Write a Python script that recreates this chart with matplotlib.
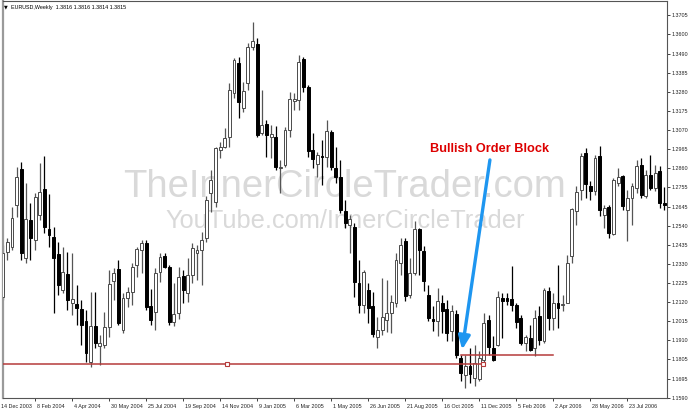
import matplotlib
matplotlib.use("Agg")
import matplotlib.pyplot as plt
from matplotlib.transforms import offset_copy

# ---------------- data (EURUSD weekly) ----------------
opens = [1.2147,1.2395,1.2423,1.2655,1.2854,1.2362,1.2572,1.2462,1.2600,1.2744,
         1.2523,1.2478,1.2384,1.2185,1.2274,1.2114,1.2108,1.2080,1.2014,1.1788,
         1.1986,1.1876,1.1882,1.1981,1.2235,1.2302,1.1964,1.2141,1.2174,1.2324,
         1.2406,1.2445,1.2097,1.2064,1.2285,1.2373,1.2313,1.2009,1.2058,1.2263,
         1.2169,1.2269,1.2390,1.2406,1.2473,1.2722,1.2672,1.2959,1.2976,1.3031,
         1.3274,1.3440,1.3191,1.3329,1.3528,1.3545,1.3053,1.3103,1.3031,1.3031,
         1.2859,1.2876,1.3070,1.3230,1.3235,1.3462,1.3307,1.2959,1.2882,1.2926,
         1.2920,1.3059,1.2859,1.2810,1.2622,1.2545,1.2534,1.2224,1.2102,1.2185,
         1.2097,1.1926,1.1964,1.2020,1.2058,1.2114,1.2335,1.2456,1.2158,1.2280,
         1.2523,1.2401,1.2158,1.2025,1.2014,1.2114,1.2080,1.1959,1.2053,1.1810,
         1.1716,1.1766,1.1699,1.1694,1.1799,1.2020,1.1865,1.1882,1.2141,1.2141,
         1.2136,1.2102,1.2031,1.1893,1.1920,1.1865,1.2042,1.1904,1.2180,1.2031,
         1.2114,1.2102,1.2114,1.2373,1.2622,1.2738,1.2942,1.2760,1.2733,1.2926,
         1.2600,1.2644,1.2495,1.2776,1.2815,1.2627,1.2694,1.2749,1.2876,1.2705,
         1.2821,1.2749,1.2843,1.2666]
highs = [1.2434,1.2473,1.2644,1.2865,1.2893,1.2776,1.2666,1.2722,1.2887,1.2926,
         1.2716,1.2534,1.2451,1.2423,1.2395,1.2390,1.2213,1.2130,1.2075,1.2174,
         1.2174,1.1937,1.2064,1.2296,1.2307,1.2351,1.2169,1.2202,1.2335,1.2423,
         1.2462,1.2462,1.2191,1.2307,1.2390,1.2390,1.2324,1.2224,1.2313,1.2296,
         1.2362,1.2445,1.2434,1.2506,1.2705,1.2848,1.2976,1.3003,1.3081,1.3329,
         1.3467,1.3473,1.3335,1.3550,1.3666,1.3578,1.3291,1.3125,1.3097,1.3092,
         1.2904,1.3087,1.3279,1.3274,1.3484,1.3473,1.3318,1.3053,1.2948,1.3014,
         1.3125,1.3070,1.2976,1.2904,1.2683,1.2600,1.2556,1.2351,1.2296,1.2224,
         1.2174,1.2036,1.2252,1.2241,1.2158,1.2390,1.2473,1.2473,1.2362,1.2567,
         1.2528,1.2429,1.2213,1.2097,1.2196,1.2158,1.2130,1.2102,1.2075,1.1826,
         1.1826,1.1865,1.1882,1.1848,1.2058,1.2047,1.1931,1.2180,1.2169,1.2169,
         1.2318,1.2114,1.2047,1.1937,1.1992,1.2075,1.2097,1.2196,1.2202,1.2169,
         1.2324,1.2158,1.2379,1.2638,1.2760,1.2942,1.2970,1.2788,1.2931,1.2982,
         1.2655,1.2655,1.2804,1.2859,1.2821,1.2738,1.2776,1.2904,1.2915,1.2848,
         1.2931,1.2876,1.2870,1.2755]
lows = [1.2130,1.2351,1.2406,1.2589,1.2351,1.2335,1.2351,1.2406,1.2572,1.2500,
        1.2423,1.2058,1.2158,1.2169,1.2075,1.2047,1.1992,1.1882,1.1788,1.1760,
        1.1865,1.1771,1.1865,1.1926,1.2130,1.1992,1.1948,1.2091,1.2102,1.2258,
        1.2280,1.2075,1.1992,1.1964,1.2230,1.2307,1.1992,1.1986,1.2025,1.2114,
        1.2119,1.2224,1.2241,1.2213,1.2451,1.2616,1.2644,1.2915,1.2970,1.2976,
        1.3246,1.3136,1.3169,1.3291,1.3512,1.3031,1.3042,1.2920,1.2915,1.2848,
        1.2722,1.2865,1.3031,1.3180,1.3180,1.3279,1.2920,1.2859,1.2810,1.2766,
        1.2865,1.2848,1.2776,1.2611,1.2528,1.2390,1.2147,1.2058,1.2058,1.2003,
        1.1926,1.1865,1.1937,1.1953,1.1948,1.2091,1.2269,1.2125,1.2141,1.2269,
        1.2269,1.2180,1.2014,1.1959,1.1931,1.1948,1.1904,1.1904,1.1810,1.1682,
        1.1644,1.1671,1.1655,1.1682,1.1766,1.1826,1.1793,1.1876,1.1920,1.2102,
        1.2069,1.1975,1.1882,1.1848,1.1848,1.1821,1.1882,1.1893,1.1964,1.1964,
        1.1975,1.2069,1.2114,1.2335,1.2545,1.2683,1.2694,1.2683,1.2710,1.2594,
        1.2528,1.2473,1.2489,1.2760,1.2627,1.2456,1.2545,1.2722,1.2694,1.2694,
        1.2738,1.2733,1.2638,1.2627]
closes = [1.2390,1.2451,1.2583,1.2810,1.2390,1.2578,1.2473,1.2699,1.2727,1.2534,
          1.2489,1.2362,1.2213,1.2285,1.2130,1.2136,1.2086,1.1992,1.1837,1.1986,
          1.1893,1.1893,1.1981,1.2219,1.2280,1.2003,1.2141,1.2174,1.2313,1.2412,
          1.2445,1.2091,1.2020,1.2280,1.2368,1.2313,1.2009,1.2053,1.2258,1.2185,
          1.2269,1.2418,1.2406,1.2462,1.2683,1.2793,1.2970,1.2976,1.3026,1.3291,
          1.3456,1.3224,1.3285,1.3528,1.3561,1.3042,1.3097,1.3042,1.3048,1.2865,
          1.2865,1.3070,1.3241,1.3241,1.3445,1.3307,1.2953,1.2909,1.2931,1.2920,
          1.3064,1.2865,1.2810,1.2627,1.2556,1.2578,1.2230,1.2102,1.2285,1.2086,
          1.1942,1.1964,1.2036,1.2058,1.2119,1.2351,1.2434,1.2152,1.2280,1.2523,
          1.2406,1.2235,1.2031,1.2014,1.2125,1.2069,1.1948,1.2069,1.1826,1.1727,
          1.1766,1.1721,1.1782,1.1810,1.2003,1.1871,1.1799,1.2147,1.2125,1.2125,
          1.2102,1.2009,1.1893,1.1926,1.1854,1.2031,1.1909,1.2185,1.2031,1.2114,
          1.2086,1.2108,1.2335,1.2633,1.2727,1.2926,1.2771,1.2733,1.2915,1.2627,
          1.2638,1.2500,1.2793,1.2810,1.2650,1.2694,1.2760,1.2870,1.2710,1.2821,
          1.2749,1.2832,1.2666,1.2655]

date_labels = ["8 Feb 2004", "4 Apr 2004", "30 May 2004", "25 Jul 2004",
               "19 Sep 2004", "14 Nov 2004", "9 Jan 2005", "6 Mar 2005",
               "1 May 2005", "26 Jun 2005", "21 Aug 2005", "16 Oct 2005",
               "11 Dec 2005", "5 Feb 2006", "2 Apr 2006", "28 May 2006",
               "23 Jul 2006"]
date_positions = [7, 15, 23, 31, 39, 47, 55, 63, 71, 79, 87, 95, 103, 111,
                  119, 127, 135]
first_label = "14 Dec 2003"

price_ticks = [1.3705, 1.3600, 1.3490, 1.3385, 1.3280, 1.3175, 1.3070, 1.2965,
               1.2860, 1.2755, 1.2645, 1.2540, 1.2435, 1.2330, 1.2225, 1.2120,
               1.2015, 1.1910, 1.1805, 1.1695, 1.1590]

support_level = 1.1777     # long red line
support_end = 103.9
support_mark = 48.5
ob_level = 1.1826          # order block high line
ob_start, ob_end = 99.0, 118.9
arrow_tail = (105.3, 1.2904)
arrow_head = (99.3, 1.1856)
label_pos = (105.2, 1.2950)

# ---------------- figure ----------------
W, H = 690, 412
fig = plt.figure(figsize=(W / 100, H / 100), dpi=100)
fig.patch.set_facecolor("white")
ax_l, ax_r, ax_t, ax_b = 2.5, 667.0, 1.0, 398.0
ax = fig.add_axes([ax_l / W, (H - ax_b) / H, (ax_r - ax_l) / W, (ax_b - ax_t) / H])
ax.set_facecolor("white")

SMALL = "Liberation Sans"
n = len(opens)
xs = list(range(n))
bull = [c >= o for o, c in zip(opens, closes)]

# wicks
for i in xs:
    col = "#555555" if bull[i] else "black"
    ax.vlines(i, lows[i], highs[i], color=col, linewidth=0.9, zorder=2)

# bodies
bw = 0.62
min_h = 0.00025
for i in xs:
    o, c = opens[i], closes[i]
    bottom = min(o, c)
    h = max(abs(c - o), min_h)
    if bull[i]:
        ax.bar(i, h, bottom=bottom, width=bw, facecolor="white",
               edgecolor="#4a4a4a", linewidth=0.7, zorder=3)
    else:
        ax.bar(i, h, bottom=bottom, width=bw, facecolor="black",
               edgecolor="black", linewidth=0.7, zorder=3)

# red lines
red = "#b53a3a"
ax.plot([-1, support_end], [support_level, support_level], color=red, lw=1.1, zorder=4)
ax.plot([support_mark, support_end], [support_level, support_level], linestyle="none",
        marker="s", ms=2.6, mfc="white", mec=red, mew=0.8, zorder=5)
ax.plot([ob_start, ob_end], [ob_level, ob_level], color=red, lw=1.1, zorder=4)

# arrow + label
ax.annotate("", xy=arrow_head, xytext=arrow_tail,
            arrowprops=dict(arrowstyle="-|>,head_length=0.8,head_width=0.35",
                            color="#1e96f0", lw=2.4, shrinkA=0, shrinkB=0),
            zorder=6)
ax.text(label_pos[0], label_pos[1], "Bullish Order Block", color="#dd0000",
        fontsize=9.2, fontweight="bold", family="Liberation Sans",
        ha="center", va="baseline", zorder=6)

# watermark (behind candles)
ax.text(345 / W, (H - 197) / H, "TheInnerCircleTrader.com", transform=fig.transFigure,
        fontsize=27.5, family="Liberation Sans", color="#d9d9d9",
        ha="center", va="baseline", zorder=0)
ax.text(345 / W, (H - 228) / H, "YouTube.com/InnerCircleTrader", transform=fig.transFigure,
        fontsize=18.3, family="Liberation Sans", color="#d9d9d9",
        ha="center", va="baseline", zorder=0)

# axes limits (index i at pixel 2.7 + 4.627*i)
px_per_bar = 4.627
x0_px = 2.7
ax.set_xlim((ax_l - x0_px) / px_per_bar, (ax_r - x0_px) / px_per_bar)
px_per_unit = 1809.5
ax.set_ylim(1.3705 - (ax_b - 15) / px_per_unit, 1.3705 + (15 - ax_t) / px_per_unit)

# y ticks on right
ax.yaxis.tick_right()
ax.set_yticks(price_ticks)
ax.set_yticklabels([f"{p:.4f}" for p in price_ticks])
ax.tick_params(axis="y", direction="out", length=2.5, width=0.6, pad=1,
               labelsize=3.9, colors="#222222")
for lbl in ax.get_yticklabels():
    lbl.set_family(SMALL)

# x ticks
ax.set_xticks(date_positions)
ax.set_xticklabels(date_labels)
ax.tick_params(axis="x", direction="out", length=2.5, width=0.6, pad=1.5,
               labelsize=3.9, colors="#222222")
for lbl in ax.get_xticklabels():
    lbl.set_ha("left")
    lbl.set_family(SMALL)
    lbl.set_transform(offset_copy(lbl.get_transform(), fig=fig, x=1.3, y=0, units="points"))
first = ax.text(-1.5 / (ax_r - ax_l), 0, first_label, transform=ax.transAxes, fontsize=3.9,
                family=SMALL, color="#222222", ha="left", va="top")
first.set_transform(offset_copy(ax.transAxes, fig=fig, x=0, y=-4.0, units="points"))

for s in ax.spines.values():
    s.set_color("#555555")
    s.set_linewidth(0.8)
ax.spines["left"].set_linewidth(1.6)
ax.spines["left"].set_color("#9a9a9a")

# header
fig.text(4 / W, (H - 7) / H, "\u25BC", fontsize=3.5, color="black", va="center", ha="left")
fig.text(11 / W, (H - 7) / H, "EURUSD,Weekly  1.3816 1.3816 1.3814 1.3815",
         fontsize=3.9, family=SMALL, color="black", va="center", ha="left")

fig.savefig("out.png", dpi=100, facecolor="white")
